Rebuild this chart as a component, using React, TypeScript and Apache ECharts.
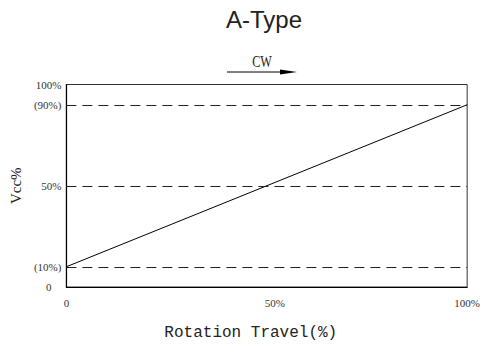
import React, { useEffect, useRef } from "react";
import * as echarts from "echarts";

const titleText = "A-Type";
const directionText = "CW";
const xAxisName = "Rotation Travel(%)";
const yAxisName = "Vcc%";
const curveX = [0, 100];
const curveY = [10, 90];
const refLevels = [10, 50, 90];
const yTickLabels: Record<number, string> = { 0: "{z|0}", 10: "(10%)", 50: "50%", 90: "(90%)", 100: "100%" };
const xTickLabels: Record<number, string> = { 0: "0", 50: "{m|50%}", 100: "100%" };

export default function App() {
  const ref = useRef<HTMLDivElement>(null);
  useEffect(() => {
    if (!ref.current) return;
    const chart = echarts.init(ref.current, null, { renderer: "svg" });
    const tickFont = { fontFamily: "Liberation Serif", fontSize: 11, color: "#333" };
    chart.setOption({
      animation: false,
      backgroundColor: "#fff",
      title: {
        text: titleText,
        left: 226,
        top: 7,
        textStyle: { fontFamily: "Liberation Sans", fontSize: 24, fontWeight: "normal", color: "#222" },
        padding: 0,
      },
      grid: { left: 64, right: 15, top: 84.5, bottom: 59, show: true, borderColor: "#333", borderWidth: 1 },
      xAxis: {
        type: "value",
        min: 0,
        max: 100,
        interval: 50,
        name: xAxisName,
        nameLocation: "middle",
        nameGap: 38,
        nameTextStyle: { fontFamily: "Liberation Mono", fontSize: 16, color: "#222", padding: [0, 32, 0, 0] },
        axisLine: { lineStyle: { color: "#000", width: 1.2 } },
        axisTick: { show: false },
        splitLine: { show: false },
        axisLabel: {
          ...tickFont,
          margin: 10,
          formatter: (v: number) => xTickLabels[v] ?? "",
          rich: { m: { ...tickFont, padding: [0, 0, 0, 16] } },
        },
      },
      yAxis: {
        type: "value",
        min: 0,
        max: 100,
        interval: 10,
        name: yAxisName,
        nameLocation: "middle",
        nameRotate: 90,
        nameGap: 42,
        nameTextStyle: { fontFamily: "Liberation Serif", fontSize: 15, color: "#222" },
        axisLine: { show: true, lineStyle: { color: "#000", width: 1.2 } },
        axisTick: { show: false },
        splitLine: { show: false },
        axisLabel: {
          ...tickFont,
          margin: 5,
          formatter: (v: number) => yTickLabels[v] ?? "",
          rich: { z: { ...tickFont, padding: [0, 10, 0, 0] } },
        },
      },
      series: [
        {
          type: "line",
          data: curveX.map((x, i) => [x, curveY[i]]),
          symbol: "none",
          lineStyle: { color: "#000", width: 1 },
          markLine: {
            silent: true,
            symbol: "none",
            label: { show: false },
            lineStyle: { color: "#222", width: 1, type: [10, 6] },
            data: refLevels.map((y) => ({ yAxis: y })),
          },
        },
      ],
      graphic: [
        {
          type: "text",
          x: 262,
          y: 61,
          scaleX: 0.72,
          style: {
            text: directionText,
            font: "17px 'Liberation Serif'",
            fill: "#222",
            textAlign: "center",
            textVerticalAlign: "middle",
          },
        },
        { type: "line", shape: { x1: 227, y1: 72, x2: 284, y2: 72 }, style: { stroke: "#000", lineWidth: 1 } },
        {
          type: "polygon",
          shape: { points: [[280, 69.5], [297, 72], [280, 74.5]] },
          style: { fill: "#000" },
        },
      ],
    });
    return () => chart.dispose();
  }, []);
  return <div ref={ref} style={{ position: "fixed", left: 0, top: 0, width: 483, height: 346 }} />;
}
